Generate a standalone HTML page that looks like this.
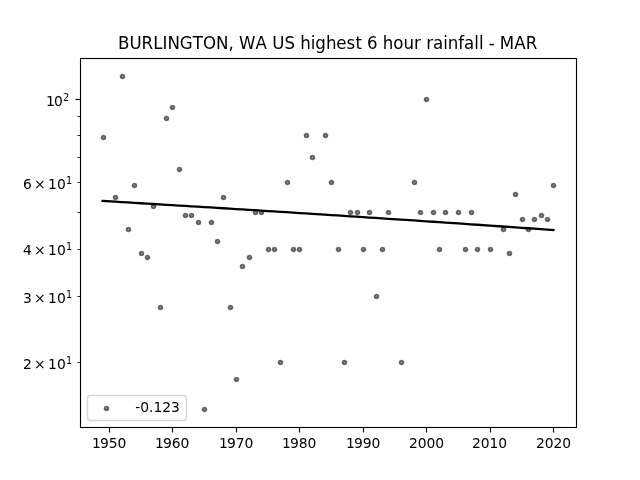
<!DOCTYPE html>
<html><head><meta charset="utf-8"><title>BURLINGTON, WA US highest 6 hour rainfall - MAR</title>
<style>html,body{margin:0;padding:0;background:#fff;overflow:hidden}svg{display:block}text{font-family:'DejaVu Sans',sans-serif;fill:#000}.g{text-rendering:geometricPrecision}.o{text-rendering:optimizeLegibility}</style></head>
<body><svg width="640" height="480" viewBox="0 0 640 480">
<rect width="640" height="480" fill="#fff"/>
<path d="M80.5 58.5H576.5V427.5H80.5Z" fill="none" stroke="#000" stroke-width="1.111"/>
<g fill="#000" fill-opacity="0.055"><rect x="80" y="57" width="497" height="1"/><rect x="80" y="59" width="497" height="1"/><rect x="80" y="426" width="497" height="1"/><rect x="80" y="428" width="497" height="1"/></g>
<g fill="#000" fill-opacity="0.5" stroke="#000" stroke-opacity="0.5" stroke-width="1.389"><circle cx="103.5" cy="137.5" r="2.083"/><circle cx="115.5" cy="197.5" r="2.083"/><circle cx="122.5" cy="76.5" r="2.083"/><circle cx="128.5" cy="229.5" r="2.083"/><circle cx="134.5" cy="185.5" r="2.083"/><circle cx="141.5" cy="253.5" r="2.083"/><circle cx="147.5" cy="257.5" r="2.083"/><circle cx="153.5" cy="206.5" r="2.083"/><circle cx="160.5" cy="307.5" r="2.083"/><circle cx="166.5" cy="118.5" r="2.083"/><circle cx="172.5" cy="107.5" r="2.083"/><circle cx="179.5" cy="169.5" r="2.083"/><circle cx="185.5" cy="215.5" r="2.083"/><circle cx="191.5" cy="215.5" r="2.083"/><circle cx="198.5" cy="222.5" r="2.083"/><circle cx="204.5" cy="409.5" r="2.083"/><circle cx="211.5" cy="222.5" r="2.083"/><circle cx="217.5" cy="241.5" r="2.083"/><circle cx="223.5" cy="197.5" r="2.083"/><circle cx="230.5" cy="307.5" r="2.083"/><circle cx="236.5" cy="379.5" r="2.083"/><circle cx="242.5" cy="266.5" r="2.083"/><circle cx="249.5" cy="257.5" r="2.083"/><circle cx="255.5" cy="212.5" r="2.083"/><circle cx="261.5" cy="212.5" r="2.083"/><circle cx="268.5" cy="249.5" r="2.083"/><circle cx="274.5" cy="249.5" r="2.083"/><circle cx="280.5" cy="362.5" r="2.083"/><circle cx="287.5" cy="182.5" r="2.083"/><circle cx="293.5" cy="249.5" r="2.083"/><circle cx="299.5" cy="249.5" r="2.083"/><circle cx="306.5" cy="135.5" r="2.083"/><circle cx="312.5" cy="157.5" r="2.083"/><circle cx="325.5" cy="135.5" r="2.083"/><circle cx="331.5" cy="182.5" r="2.083"/><circle cx="338.5" cy="249.5" r="2.083"/><circle cx="344.5" cy="362.5" r="2.083"/><circle cx="350.5" cy="212.5" r="2.083"/><circle cx="357.5" cy="212.5" r="2.083"/><circle cx="363.5" cy="249.5" r="2.083"/><circle cx="369.5" cy="212.5" r="2.083"/><circle cx="376.5" cy="296.5" r="2.083"/><circle cx="382.5" cy="249.5" r="2.083"/><circle cx="388.5" cy="212.5" r="2.083"/><circle cx="401.5" cy="362.5" r="2.083"/><circle cx="414.5" cy="182.5" r="2.083"/><circle cx="420.5" cy="212.5" r="2.083"/><circle cx="426.5" cy="99.5" r="2.083"/><circle cx="433.5" cy="212.5" r="2.083"/><circle cx="439.5" cy="249.5" r="2.083"/><circle cx="445.5" cy="212.5" r="2.083"/><circle cx="458.5" cy="212.5" r="2.083"/><circle cx="465.5" cy="249.5" r="2.083"/><circle cx="471.5" cy="212.5" r="2.083"/><circle cx="477.5" cy="249.5" r="2.083"/><circle cx="490.5" cy="249.5" r="2.083"/><circle cx="503.5" cy="229.5" r="2.083"/><circle cx="509.5" cy="253.5" r="2.083"/><circle cx="515.5" cy="194.5" r="2.083"/><circle cx="522.5" cy="219.5" r="2.083"/><circle cx="528.5" cy="229.5" r="2.083"/><circle cx="534.5" cy="219.5" r="2.083"/><circle cx="541.5" cy="215.5" r="2.083"/><circle cx="547.5" cy="219.5" r="2.083"/><circle cx="553.5" cy="185.5" r="2.083"/></g>
<polyline points="102.55,200.97 115.25,201.72 121.60,202.10 127.95,202.48 134.30,202.86 140.65,203.24 147.00,203.62 153.35,204.00 159.70,204.38 166.05,204.77 172.40,205.15 178.76,205.54 185.11,205.92 191.46,206.31 197.81,206.70 204.16,207.09 210.51,207.48 216.86,207.87 223.21,208.26 229.56,208.65 235.91,209.04 242.26,209.44 248.61,209.83 254.97,210.23 261.32,210.63 267.67,211.03 274.02,211.43 280.37,211.83 286.72,212.23 293.07,212.63 299.42,213.03 305.77,213.44 312.12,213.84 324.82,214.66 331.18,215.07 337.53,215.48 343.88,215.89 350.23,216.30 356.58,216.71 362.93,217.12 369.28,217.54 375.63,217.95 381.98,218.37 388.33,218.79 401.03,219.63 413.74,220.47 420.09,220.89 426.44,221.32 432.79,221.74 439.14,222.17 445.49,222.60 458.19,223.46 464.54,223.89 470.89,224.32 477.24,224.75 489.95,225.62 502.65,226.50 509.00,226.94 515.35,227.38 521.70,227.82 528.05,228.26 534.40,228.70 540.75,229.15 547.10,229.60 553.45,230.04" fill="none" stroke="#000" stroke-width="2.283" stroke-linecap="square" stroke-linejoin="round"/>
<path d="M109.5 427.5V432.50" stroke="#000" stroke-width="1.111"/>
<path d="M172.5 427.5V432.50" stroke="#000" stroke-width="1.111"/>
<path d="M236.5 427.5V432.50" stroke="#000" stroke-width="1.111"/>
<path d="M299.5 427.5V432.50" stroke="#000" stroke-width="1.111"/>
<path d="M363.5 427.5V432.50" stroke="#000" stroke-width="1.111"/>
<path d="M426.5 427.5V432.50" stroke="#000" stroke-width="1.111"/>
<path d="M490.5 427.5V432.50" stroke="#000" stroke-width="1.111"/>
<path d="M553.5 427.5V432.50" stroke="#000" stroke-width="1.111"/>
<path d="M80.5 99.5H75.50" stroke="#000" stroke-width="1.111"/>
<path d="M80.5 362.5H77.50" stroke="#000" stroke-width="0.833"/>
<path d="M80.5 296.5H77.50" stroke="#000" stroke-width="0.833"/>
<path d="M80.5 249.5H77.50" stroke="#000" stroke-width="0.833"/>
<path d="M80.5 212.5H77.50" stroke="#000" stroke-width="0.833"/>
<path d="M80.5 182.5H77.50" stroke="#000" stroke-width="0.833"/>
<path d="M80.5 157.5H77.50" stroke="#000" stroke-width="0.833"/>
<path d="M80.5 135.5H77.50" stroke="#000" stroke-width="0.833"/>
<path d="M80.5 116.5H77.50" stroke="#000" stroke-width="0.833"/>
<text transform="translate(0 48.70) scale(1 1.080)" x="118.12 129.53 141.45 153.25 162.51 167.42 179.85 192.73 202.89 215.98 228.41 233.95 238.98 255.42 267.04 272.33 284.50 295.05 300.33 310.87 315.24 326.04 336.33 346.56 355.47 361.99 367.02 377.85 382.88 393.17 403.59 414.13 421.21 426.25 433.08 443.27 447.64 458.18 464.03 474.22 479.09 483.95 488.74 495.24 499.77 514.37 525.74" y="0" font-size="16.667" style="white-space:pre" class="o">BURLINGTON, WA US highest 6 hour rainfall - MAR</text>
<text x="92.07 99.91 108.74 117.58" y="447.64" font-size="13.889">1950</text>
<text x="155.11 162.95 171.78 180.62" y="447.67" font-size="13.889">1960</text>
<text x="218.89 226.98 235.82 244.40" y="447.65" font-size="13.889">1970</text>
<text x="282.11 289.95 298.78 307.62" y="447.51" font-size="13.889">1980</text>
<text x="346.11 353.95 362.78 371.62" y="447.73" font-size="13.889">1990</text>
<text x="408.93 417.77 426.61 435.19" y="447.71" font-size="13.889">2000</text>
<text x="472.01 480.85 489.43 498.27" y="447.52" font-size="13.889">2010</text>
<text x="535.89 544.72 553.56 562.15" y="447.52" font-size="13.889">2020</text>
<text x="45.96 54.05" y="105.87" font-size="13.889">10<tspan x="63.02" y="100.55" font-size="9.722">2</tspan></text>
<text x="22.94 33.98 48.08 56.91" y="368.94" font-size="13.889">2×10<tspan x="65.88" y="363.62" font-size="9.722">1</tspan></text>
<text x="23.07 34.12 47.96 57.05" y="302.93" font-size="13.889">3×10<tspan x="66.02" y="297.62" font-size="9.722">1</tspan></text>
<text x="22.95 33.99 48.08 56.92" y="254.94" font-size="13.889">4×10<tspan x="65.89" y="249.62" font-size="9.722">1</tspan></text>
<text x="22.98 34.02 48.11 56.95" y="188.95" font-size="13.889">6×10<tspan x="65.92" y="183.63" font-size="9.722">1</tspan></text>
<path d="M90.28 420.5H183.72Q186.5 420.5 186.5 417.72V398.28Q186.5 395.5 183.72 395.5H90.28Q87.5 395.5 87.5 398.28V417.72Q87.5 420.5 90.28 420.5Z" fill="#fff" fill-opacity="0.8" stroke="#ccc" stroke-opacity="0.8" stroke-width="1.389"/>
<circle cx="106.5" cy="408.5" r="2.083" fill="#000" fill-opacity="0.5" stroke="#000" stroke-opacity="0.5" stroke-width="1.389"/>
<text x="135.33 140.35 148.93 153.60 162.18 171.02" y="411.61" font-size="13.889">-0.123</text>
</svg></body></html>
